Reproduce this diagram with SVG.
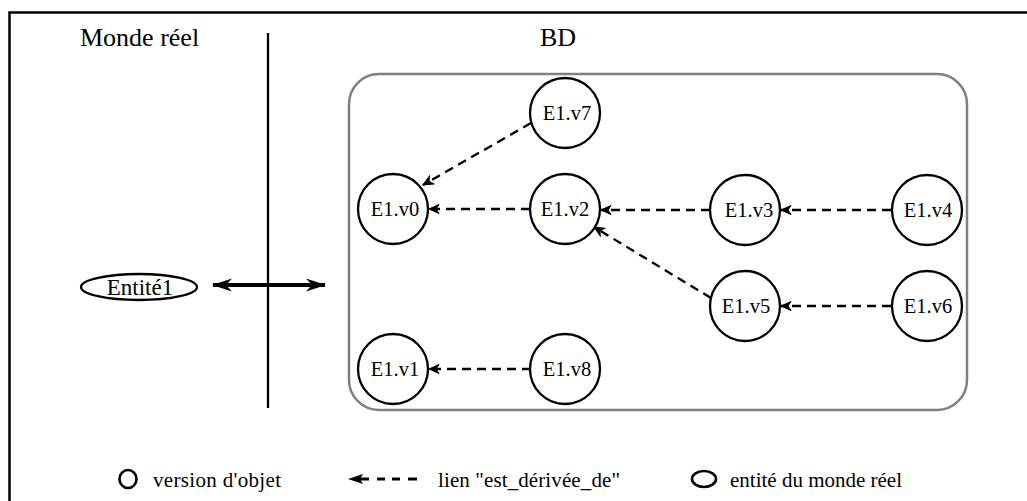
<svg xmlns="http://www.w3.org/2000/svg" width="1027" height="501" viewBox="0 0 1027 501">
<defs>
<style>
text{font-family:"Liberation Serif","Times New Roman",Times,serif;fill:#000}
.lbl{font-size:20.5px}
.leg{font-size:21px}
.node circle{fill:#fff;stroke:#000;stroke-width:2.3}
.edge{stroke:#000;stroke-width:2.3;stroke-dasharray:9 6;fill:none}
</style>
<marker id="ah" viewBox="0 0 12 12" refX="11" refY="6" markerWidth="12" markerHeight="12" markerUnits="userSpaceOnUse" orient="auto">
<path d="M1,1.5 L11,6 L1,10.5 L4,6 Z" fill="#000" stroke="#000" stroke-width="1"/>
</marker>
<marker id="big" viewBox="0 0 20 14" refX="19" refY="7" markerWidth="20" markerHeight="14" markerUnits="userSpaceOnUse" orient="auto-start-reverse">
<path d="M0,0.5 L20,7 L0,13.5 L6,7 Z" fill="#000"/>
</marker>
</defs>
<rect width="1027" height="501" fill="#fff"/>
<path d="M9.5,501 V12.5 H1027" fill="none" stroke="#000" stroke-width="2.5"/>
<text x="80" y="46" style="font-size:26px">Monde réel</text>
<text x="540" y="46" style="font-size:26px">BD</text>
<line x1="268" y1="33" x2="268" y2="408" stroke="#000" stroke-width="2.3"/>
<rect x="349" y="74" width="618" height="336" rx="30" ry="30" fill="none" stroke="#808080" stroke-width="2.5"/>
<g id="entite1" class="node"><ellipse cx="139" cy="287" rx="58" ry="13" fill="#fff" stroke="#000" stroke-width="2.3"/><text x="140" y="295" style="font-size:23px" text-anchor="middle">Entité1</text></g>
<g id="link">
<line x1="213" y1="285" x2="325" y2="285" stroke="#000" stroke-width="3.8" marker-start="url(#big)" marker-end="url(#big)"/>
</g>
<g id="connectors">
<line class="edge" x1="531" y1="123" x2="423" y2="185" marker-end="url(#ah)"/>
<line class="edge" x1="530" y1="209" x2="429" y2="209" marker-end="url(#ah)"/>
<line class="edge" x1="710" y1="210" x2="601" y2="210" marker-end="url(#ah)"/>
<line class="edge" x1="891" y1="210" x2="781" y2="210" marker-end="url(#ah)"/>
<line class="edge" x1="711" y1="298" x2="594" y2="227" marker-end="url(#ah)"/>
<line class="edge" x1="891" y1="306" x2="781" y2="306" marker-end="url(#ah)"/>
<line class="edge" x1="531" y1="369" x2="429" y2="369" marker-end="url(#ah)"/>
</g>
<g id="v7" class="node"><circle cx="565" cy="113" r="35"/><text x="567" y="120" class="lbl" text-anchor="middle">E1.v7</text></g>
<g id="v0" class="node"><circle cx="393" cy="209" r="35"/><text x="395" y="216" class="lbl" text-anchor="middle">E1.v0</text></g>
<g id="v2" class="node"><circle cx="565" cy="209" r="35"/><text x="565" y="216" class="lbl" text-anchor="middle">E1.v2</text></g>
<g id="v3" class="node"><circle cx="745" cy="210" r="35"/><text x="749" y="217" class="lbl" text-anchor="middle">E1.v3</text></g>
<g id="v4" class="node"><circle cx="927" cy="210" r="35"/><text x="928" y="217" class="lbl" text-anchor="middle">E1.v4</text></g>
<g id="v5" class="node"><circle cx="745" cy="306" r="35"/><text x="746" y="313" class="lbl" text-anchor="middle">E1.v5</text></g>
<g id="v6" class="node"><circle cx="927" cy="306" r="35"/><text x="928" y="313" class="lbl" text-anchor="middle">E1.v6</text></g>
<g id="v1" class="node"><circle cx="393" cy="369" r="35"/><text x="395" y="376" class="lbl" text-anchor="middle">E1.v1</text></g>
<g id="v8" class="node"><circle cx="565" cy="369" r="35"/><text x="567" y="376" class="lbl" text-anchor="middle">E1.v8</text></g>
<g id="legend">
<ellipse cx="128" cy="479" rx="8.5" ry="9" fill="none" stroke="#000" stroke-width="2.6"/>
<text x="153" y="487" class="leg" textLength="128">version d'objet</text>
<path d="M348,479 L363,474 L360,479 L363,484 Z" fill="#000"/>
<path d="M360,479 H369 M377,479 H385 M392,479 H400 M408,479 H417" stroke="#000" stroke-width="2.8" fill="none"/>
<text x="438" y="487" class="leg" textLength="182">lien "est_dérivée_de"</text>
<ellipse cx="704" cy="479" rx="12" ry="8" fill="none" stroke="#000" stroke-width="2.6"/>
<text x="730" y="487" class="leg">entité du monde réel</text>
</g>
</svg>
